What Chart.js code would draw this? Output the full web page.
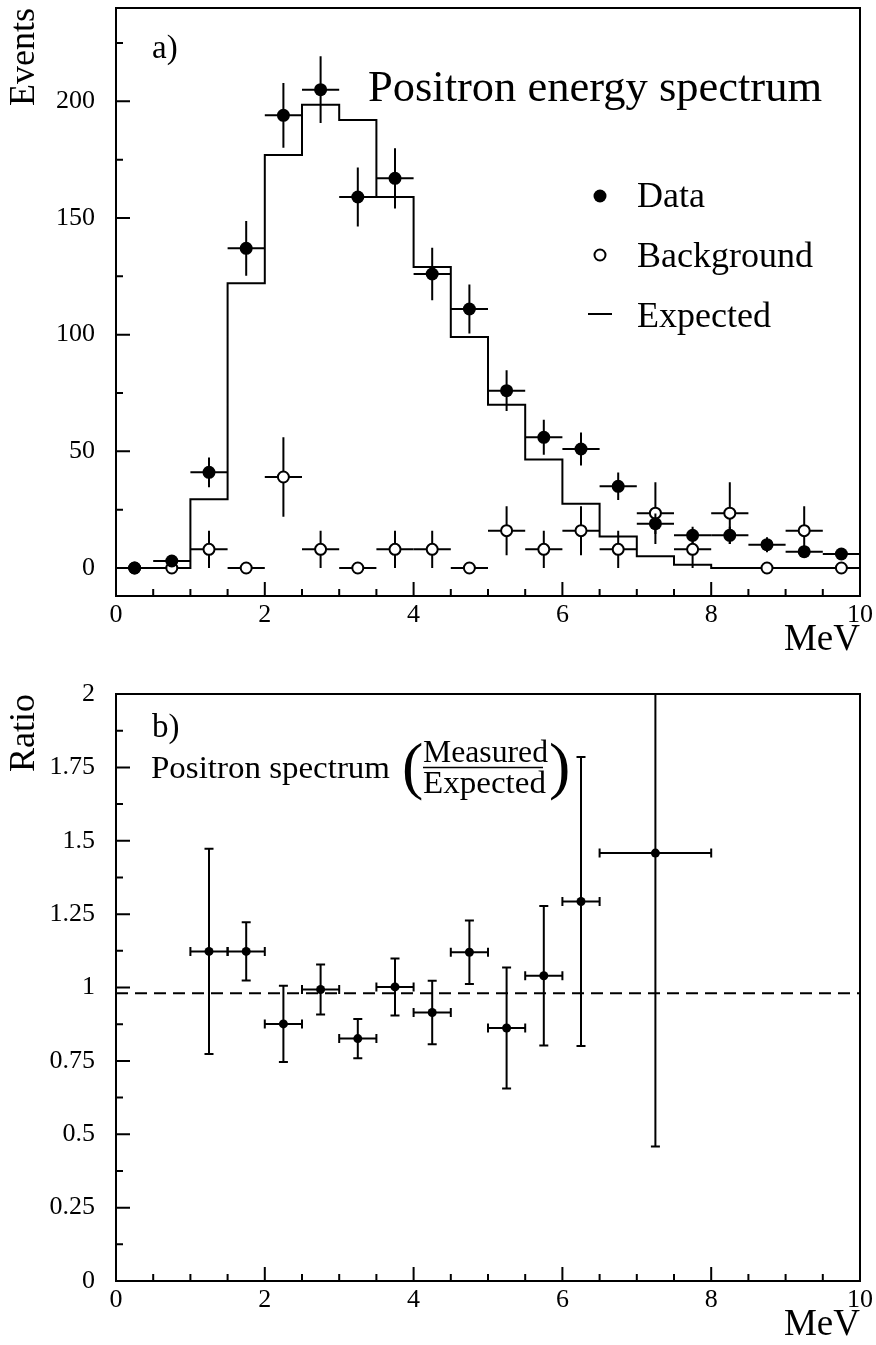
<!DOCTYPE html>
<html>
<head>
<meta charset="utf-8">
<script src="https://cdn.jsdelivr.net/npm/chart.js@4.4.0/dist/chart.umd.min.js"></script>
<style>
  html, body { margin: 0; padding: 0; background: #fff; }
  #wrap { position: relative; width: 876px; height: 1345px; }
  #spectrum { position: absolute; left: 0; top: 0; }
  #ratio { position: absolute; left: 0; top: 660px; }
</style>
</head>
<body>
<div id="wrap">
  <canvas id="spectrum" width="876" height="660"></canvas>
  <canvas id="ratio" width="876" height="685"></canvas>
</div>
<script>
// Data
const binEdges = [0, 0.5, 1, 1.5, 2, 2.5, 3, 3.5, 4, 4.5, 5, 5.5, 6, 6.5, 7, 7.5, 8, 8.5, 9, 9.5, 10];
const dataCounts = [0, 3, 41, 137, 194, 205, 159, 167, 126, 111, 76, 56, 51, 35, 19, 14, 14, 10, 7, 6];
const dataErrors = [0, 1.7, 6.4, 11.7, 13.9, 14.3, 12.6, 12.9, 11.2, 10.5, 8.7, 7.5, 7.1, 5.9, 4.4, 3.7, 3.7, 3.2, 2.6, 2.4];
const bkgCounts = [0, 0, 8, 0, 39, 8, 0, 8, 8, 0, 16, 8, 16, 8, 23.5, 8, 23.5, 0, 16, 0];
const bkgErrors = [0, 0, 8, 0, 17, 8, 0, 8, 8, 0, 10.5, 8, 10.5, 8, 13.2, 8, 13.2, 0, 10.5, 0];
const expectedCounts = [0, 0, 29.5, 122, 177, 198.5, 192, 159, 129, 99, 70, 46.5, 27.5, 13.5, 5, 1.4, 0, 0, 0, 0];

const ratioX = [1.25, 1.75, 2.25, 2.75, 3.25, 3.75, 4.25, 4.75, 5.25, 5.75, 6.25, 7.25];
const ratioXErr = [0.25, 0.25, 0.25, 0.25, 0.25, 0.25, 0.25, 0.25, 0.25, 0.25, 0.25, 0.75];
const ratioY = [1.123, 1.123, 0.876, 0.993, 0.826, 1.002, 0.915, 1.12, 0.862, 1.04, 1.293, 1.458];
const ratioErr = [0.35, 0.099, 0.13, 0.085, 0.067, 0.097, 0.108, 0.108, 0.206, 0.238, 0.492, 1.0];
const ratioRef = 0.98;

// Axis ticks
const xMajor = [0, 2, 4, 6, 8, 10];
const xMinor = [0.5, 1, 1.5, 2.5, 3, 3.5, 4.5, 5, 5.5, 6.5, 7, 7.5, 8.5, 9, 9.5];
const eventsMajor = [0, 50, 100, 150, 200];
const eventsMinor = [25, 75, 125, 175, 225];
const ratioMajor = [0, 0.25, 0.5, 0.75, 1, 1.25, 1.5, 1.75, 2];
const ratioMinor = [0.125, 0.375, 0.625, 0.875, 1.125, 1.375, 1.625, 1.875];

const serif = "'Liberation Serif', 'Times New Roman', serif";

// Built from the arrays above
const binCenters = binEdges.slice(0, -1).map((e, i) => (e + binEdges[i + 1]) / 2);
const binHalf = binEdges.slice(0, -1).map((e, i) => (binEdges[i + 1] - e) / 2);
const dataPoints = binCenters.map((x, i) => ({ x: x, y: dataCounts[i] }));
const bkgPoints = binCenters.map((x, i) => ({ x: x, y: bkgCounts[i] }));
const expectedPoints = binEdges.map((x, i) => ({ x: x, y: expectedCounts[Math.min(i, expectedCounts.length - 1)] }));
const ratioPoints = ratioX.map((x, i) => ({ x: x, y: ratioY[i] }));

// Helpers
function drawText(ctx, str, x, y, size, width) {
    ctx.save();
    ctx.font = size + 'px ' + serif;
    ctx.fillStyle = '#000';
    ctx.textAlign = 'left';
    ctx.textBaseline = 'alphabetic';
    ctx.translate(x, y);
    if (width) {
        const w = ctx.measureText(str).width;
        ctx.scale(width / w, 1);
    }
    ctx.fillText(str, 0, 0);
    ctx.restore();
}

// Error bars, drawn under each dataset's markers
const errorBars = {
    id: 'errorBars',
    beforeDatasetDraw(chart, args) {
        const ds = chart.data.datasets[args.index];
        if (!ds.errY) return;
        const { ctx, chartArea: a, scales: { x, y } } = chart;
        const cap = ds.capSize || 0;
        ctx.save();
        ctx.beginPath();
        ctx.rect(a.left, a.top, a.right - a.left, a.bottom - a.top);
        ctx.clip();
        ctx.strokeStyle = '#000';
        ctx.lineWidth = ds.errWidth || 2;
        ds.data.forEach((p, i) => {
            const px = x.getPixelForValue(p.x);
            const py = y.getPixelForValue(p.y);
            const x0 = x.getPixelForValue(p.x - ds.errX[i]);
            const x1 = x.getPixelForValue(p.x + ds.errX[i]);
            ctx.beginPath();
            ctx.moveTo(x0, py); ctx.lineTo(x1, py);
            if (cap) {
                ctx.moveTo(x0, py - cap); ctx.lineTo(x0, py + cap);
                ctx.moveTo(x1, py - cap); ctx.lineTo(x1, py + cap);
            }
            if (ds.errY[i] > 0) {
                const y0 = y.getPixelForValue(p.y - ds.errY[i]);
                const y1 = y.getPixelForValue(p.y + ds.errY[i]);
                ctx.moveTo(px, y0); ctx.lineTo(px, y1);
                if (cap) {
                    ctx.moveTo(px - cap, y0); ctx.lineTo(px + cap, y0);
                    ctx.moveTo(px - cap, y1); ctx.lineTo(px + cap, y1);
                }
            }
            ctx.stroke();
        });
        ctx.restore();
    }
};

// Frame box with inward ticks on left and bottom
const frame = {
    id: 'frame',
    afterDraw(chart, args, opts) {
        const { ctx, chartArea: a, scales: { x, y } } = chart;
        ctx.save();
        ctx.strokeStyle = '#000';
        ctx.lineWidth = 2;
        ctx.beginPath();
        opts.xMajor.forEach(v => { const p = x.getPixelForValue(v); ctx.moveTo(p, a.bottom); ctx.lineTo(p, a.bottom - 14); });
        opts.xMinor.forEach(v => { const p = x.getPixelForValue(v); ctx.moveTo(p, a.bottom); ctx.lineTo(p, a.bottom - 7); });
        opts.yMajor.forEach(v => { const p = y.getPixelForValue(v); ctx.moveTo(a.left, p); ctx.lineTo(a.left + 14, p); });
        opts.yMinor.forEach(v => { const p = y.getPixelForValue(v); ctx.moveTo(a.left, p); ctx.lineTo(a.left + 7, p); });
        ctx.stroke();
        ctx.strokeRect(a.left, a.top, a.right - a.left, a.bottom - a.top);
        ctx.restore();
    }
};

// Free text and legend
const notes = {
    id: 'notes',
    afterDraw(chart, args, opts) {
        const ctx = chart.ctx;
        (opts.texts || []).forEach(t => drawText(ctx, t.text, t.x, t.y, t.size, t.width));
        (opts.lines || []).forEach(l => {
            ctx.save();
            ctx.strokeStyle = '#000';
            ctx.lineWidth = l.w;
            ctx.beginPath(); ctx.moveTo(l.x0, l.y); ctx.lineTo(l.x1, l.y); ctx.stroke();
            ctx.restore();
        });
        (opts.markers || []).forEach(m => {
            ctx.save();
            ctx.beginPath();
            ctx.arc(m.x, m.y, m.r, 0, Math.PI * 2);
            ctx.fillStyle = m.fill;
            ctx.fill();
            if (m.stroke) { ctx.lineWidth = m.stroke; ctx.strokeStyle = '#000'; ctx.stroke(); }
            ctx.restore();
        });
    }
};

function xScale(title) {
    return {
        type: 'linear', min: 0, max: 10,
        afterBuildTicks: s => { s.ticks = xMajor.map(v => ({ value: v })); },
        afterFit: s => { s.height = 64; s.paddingLeft = 0; s.paddingRight = 0; },
        grid: { display: false, drawTicks: false },
        border: { display: false },
        ticks: { color: '#000', font: { family: serif, size: 26 }, padding: 4, maxRotation: 0, autoSkip: false },
        title: { display: true, text: title, align: 'end', color: '#000', font: { family: serif, size: 37, lineHeight: 1 }, padding: { top: 0, bottom: 1 } }
    };
}

function yScale(min, max, major, title) {
    return {
        type: 'linear', min: min, max: max,
        afterBuildTicks: s => { s.ticks = major.map(v => ({ value: v })); },
        afterFit: s => { s.width = 116; s.paddingTop = 0; s.paddingBottom = 0; },
        grid: { display: false, drawTicks: false },
        border: { display: false },
        ticks: { color: '#000', font: { family: serif, size: 26 }, padding: 21, autoSkip: false, callback: v => String(v) },
        title: { display: true, text: title, align: 'end', color: '#000', font: { family: serif, size: 36, lineHeight: 1.2 }, padding: { top: 3, bottom: 0 } }
    };
}

const baseOptions = {
    responsive: false,
    devicePixelRatio: 1,
    animation: false,
    events: []
};

// a) Positron energy spectrum
new Chart(document.getElementById('spectrum'), {
    type: 'scatter',
    data: {
        datasets: [
            {
                label: 'Data', data: dataPoints, errX: binHalf, errY: dataErrors, errWidth: 2,
                pointRadius: 6.5, pointBackgroundColor: '#000', pointBorderColor: '#000', pointBorderWidth: 0, order: 0
            },
            {
                label: 'Background', data: bkgPoints, errX: binHalf, errY: bkgErrors, errWidth: 2,
                pointRadius: 5.5, pointBackgroundColor: '#fff', pointBorderColor: '#000', pointBorderWidth: 2, order: 1
            },
            {
                type: 'line', label: 'Expected', data: expectedPoints, stepped: 'before',
                borderColor: '#000', borderWidth: 2, pointRadius: 0, fill: false, borderJoinStyle: 'miter', order: 2
            }
        ]
    },
    options: {
        ...baseOptions,
        layout: { padding: { top: 8, right: 16, left: 0, bottom: 0 } },
        scales: { x: xScale('MeV'), y: yScale(-12, 240, eventsMajor, 'Events') },
        plugins: {
            legend: { display: false }, tooltip: { enabled: false },
            frame: { xMajor: xMajor, xMinor: xMinor, yMajor: eventsMajor, yMinor: eventsMinor },
            notes: {
                texts: [
                    { text: 'a)', x: 152, y: 58, size: 33 },
                    { text: 'Positron energy spectrum', x: 368, y: 101, size: 45, width: 454 },
                    { text: 'Data', x: 637, y: 207, size: 36 },
                    { text: 'Background', x: 637, y: 267, size: 36 },
                    { text: 'Expected', x: 637, y: 327, size: 36 }
                ],
                markers: [
                    { x: 600, y: 196, r: 6.5, fill: '#000' },
                    { x: 600, y: 255, r: 5.5, fill: '#fff', stroke: 2 }
                ],
                lines: [{ x0: 588, x1: 612, y: 314, w: 2 }]
            }
        }
    },
    plugins: [errorBars, frame, notes]
});

// b) Ratio measured / expected
new Chart(document.getElementById('ratio'), {
    type: 'scatter',
    data: {
        datasets: [
            {
                label: 'Ratio', data: ratioPoints, errX: ratioXErr, errY: ratioErr, errWidth: 2, capSize: 4.5,
                pointRadius: 4.5, pointBackgroundColor: '#000', pointBorderWidth: 0, order: 0
            },
            {
                type: 'line', label: 'Reference', data: [{ x: 0, y: ratioRef }, { x: 10, y: ratioRef }],
                borderColor: '#000', borderWidth: 2, borderDash: [12, 7], pointRadius: 0, fill: false, order: 1
            }
        ]
    },
    options: {
        ...baseOptions,
        layout: { padding: { top: 34, right: 16, left: 0, bottom: 0 } },
        scales: { x: xScale('MeV'), y: yScale(0, 2, ratioMajor, 'Ratio') },
        plugins: {
            legend: { display: false }, tooltip: { enabled: false },
            frame: { xMajor: xMajor, xMinor: xMinor, yMajor: ratioMajor, yMinor: ratioMinor },
            notes: {
                texts: [
                    { text: 'b)', x: 152, y: 77, size: 33 },
                    { text: 'Positron spectrum', x: 151, y: 118, size: 31, width: 239 },
                    { text: 'Measured', x: 423, y: 102, size: 31, width: 125 },
                    { text: 'Expected', x: 423, y: 133, size: 31, width: 123 },
                    { text: '(', x: 402, y: 127, size: 64 },
                    { text: ')', x: 549, y: 127, size: 64 }
                ],
                lines: [{ x0: 423, x1: 543, y: 107.5, w: 1.5 }]
            }
        }
    },
    plugins: [errorBars, frame, notes]
});
</script>
</body>
</html>
